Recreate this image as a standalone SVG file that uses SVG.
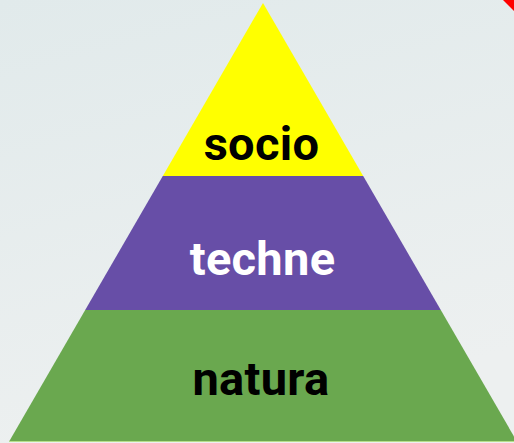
<svg xmlns="http://www.w3.org/2000/svg" width="514" height="443" viewBox="0 0 514 443">
<style>
.lbl{font-family:Roboto,"Liberation Sans",sans-serif;font-weight:700;font-size:47px;text-anchor:middle;letter-spacing:0.3px}
</style>
<defs>
<linearGradient id="bg" x1="0" y1="0" x2="0.3" y2="1">
<stop offset="0" stop-color="#e1eaeb"/>
<stop offset="1" stop-color="#edf0f0"/>
</linearGradient>
</defs>
<rect width="514" height="443" fill="url(#bg)"/>
<polygon points="503,0 514,0 514,11" fill="#ff0000"/>
<g id="natura">
<polygon points="85.2,310 440.8,310 516.6,441 9.4,441" fill="#6aa84f"/>
<line x1="9" y1="441.5" x2="514" y2="441.5" stroke="#b6e08a" stroke-width="1"/>
<text class="lbl" x="261" y="395" fill="#000000">natura</text>
</g>
<g id="techne">
<polygon points="162.8,176 363.2,176 440.8,310 85.2,310" fill="#674ea7"/>
<text class="lbl" x="262.5" y="275" fill="#ffffff">techne</text>
</g>
<g id="socio">
<polygon points="263,3 363.2,176 162.8,176" fill="#ffff00"/>
<text class="lbl" x="261.5" y="160" fill="#000000">socio</text>
</g>
<g id="connectors"></g>
</svg>
